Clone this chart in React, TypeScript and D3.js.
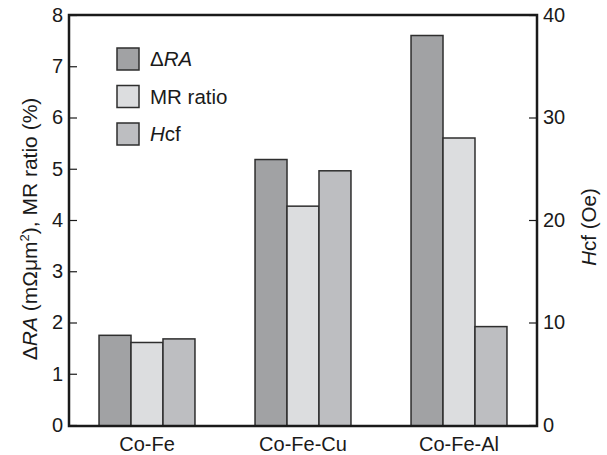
import React from "react";
import * as d3 from "d3";

const categories = ["Co-Fe", "Co-Fe-Cu", "Co-Fe-Al"];
const deltaRA = [1.75, 5.18, 7.6];
const mrRatio = [1.61, 4.27, 5.6];
const hcf = [8.4, 24.8, 9.6];
const leftTicks = [0, 1, 2, 3, 4, 5, 6, 7, 8];
const rightTicks = [0, 10, 20, 30, 40];

const colors = { dra: "#a1a2a4", mr: "#dcdddf", hcf: "#bdbec1" };
const FONT = "'Liberation Sans', Arial, Helvetica, sans-serif";

export default function App() {
  const svgRef = React.useRef<SVGSVGElement>(null);

  const width = 607;
  const height = 455;
  const margin = { top: 15, right: 70, bottom: 29, left: 69 };

  React.useEffect(() => {
    const svgEl = d3.select(svgRef.current);
    svgEl.selectAll("*").remove();

    const innerW = width - margin.left - margin.right;
    const innerH = height - margin.top - margin.bottom;

    const svg = svgEl
      .append("g")
      .attr("transform", `translate(${margin.left}, ${margin.top})`);

    var x = d3.scaleBand().domain(categories).range([0, innerW]).padding(0);
    var inner = d3
      .scaleBand()
      .domain(["dra", "mr", "hcf"])
      .range([0, x.bandwidth() * 0.615]);
    var offset = (x.bandwidth() - inner.range()[1]) / 2;

    var yLeft = d3.scaleLinear().domain([0, 8]).range([innerH - 1, 0]);
    var yRight = d3.scaleLinear().domain([0, 40]).range([innerH - 1, 0]);

    /* bars */
    const series = [
      { key: "dra", values: deltaRA, scale: yLeft },
      { key: "mr", values: mrRatio, scale: yLeft },
      { key: "hcf", values: hcf, scale: yRight },
    ];
    series.forEach((s) => {
      svg
        .append("g")
        .selectAll("rect")
        .data(s.values)
        .enter()
        .append("rect")
        .attr("x", (d, i) => (x(categories[i]) ?? 0) + offset + (inner(s.key) ?? 0))
        .attr("y", (d) => s.scale(d))
        .attr("width", inner.bandwidth())
        .attr("height", (d) => innerH - s.scale(d))
        .attr("fill", (colors as any)[s.key])
        .attr("stroke", "#2e2e2e")
        .attr("stroke-width", 1.5);
    });

    /* axes */
    const leftAxis = d3
      .axisLeft(yLeft)
      .tickValues(leftTicks)
      .tickSizeInner(-8)
      .tickSizeOuter(0)
      .tickPadding(6);
    const rightAxis = d3
      .axisRight(yRight)
      .tickValues(rightTicks)
      .tickSizeInner(-8)
      .tickSizeOuter(0)
      .tickPadding(6);
    const bottomAxis = d3.axisBottom(x).tickSize(0).tickPadding(11);

    const gl = svg.append("g").call(leftAxis);
    const gr = svg.append("g").attr("transform", `translate(${innerW}, 0)`).call(rightAxis);
    const gb = svg.append("g").attr("transform", `translate(0, ${innerH})`).call(bottomAxis);

    [gl, gr, gb].forEach((g) => {
      g.select(".domain").remove();
      g.selectAll("line").attr("stroke", "#1a1a1a").attr("stroke-width", 1.2);
      g.selectAll("text")
        .attr("font-family", FONT)
        .attr("font-size", 20)
        .attr("fill", "#1a1a1a");
    });

    /* frame */
    svg
      .append("rect")
      .attr("x", 0)
      .attr("y", 0)
      .attr("width", innerW)
      .attr("height", innerH)
      .attr("fill", "none")
      .attr("stroke", "#1a1a1a")
      .attr("stroke-width", 2.5);

    /* legend */
    const legendItems = [
      { key: "dra", parts: [["Δ", "normal"], ["RA", "italic"]] },
      { key: "mr", parts: [["MR ratio", "normal"]] },
      { key: "hcf", parts: [["H", "italic"], ["cf", "normal"]] },
    ];
    const legend = svgEl.append("g");
    legendItems.forEach((item, i) => {
      const ly = 48 + i * 37.5;
      legend
        .append("rect")
        .attr("x", 117)
        .attr("y", ly)
        .attr("width", 22)
        .attr("height", 22)
        .attr("fill", (colors as any)[item.key])
        .attr("stroke", "#2e2e2e")
        .attr("stroke-width", 1.5);
      const t = legend
        .append("text")
        .attr("x", 150)
        .attr("y", ly + 18)
        .attr("font-family", FONT)
        .attr("font-size", 20.5)
        .attr("fill", "#1a1a1a");
      item.parts.forEach(([s, st]) => {
        t.append("tspan").attr("font-style", st).text(s);
      });
    });

    /* axis titles */
    const lt = svgEl
      .append("text")
      .attr("transform", "translate(37, 229) rotate(-90)")
      .attr("text-anchor", "middle")
      .attr("font-family", FONT)
      .attr("font-size", 21)
      .attr("fill", "#1a1a1a");
    lt.append("tspan").text("Δ");
    lt.append("tspan").attr("font-style", "italic").text("RA");
    lt.append("tspan").text(" (mΩμm");
    lt.append("tspan").attr("dy", -8).attr("font-size", 13).text("2");
    lt.append("tspan").attr("dy", 8).text("), MR ratio (%)");

    const rt = svgEl
      .append("text")
      .attr("transform", "translate(596, 227) rotate(-90)")
      .attr("text-anchor", "middle")
      .attr("font-family", FONT)
      .attr("font-size", 20.5)
      .attr("fill", "#1a1a1a");
    rt.append("tspan").attr("font-style", "italic").text("H");
    rt.append("tspan").text("cf (Oe)");
    // eslint-disable-next-line
  }, []);

  return (
    <svg
      ref={svgRef}
      width={width}
      height={height}
      style={{ position: "absolute", left: 0, top: 0, background: "#fff" }}
    />
  );
}
